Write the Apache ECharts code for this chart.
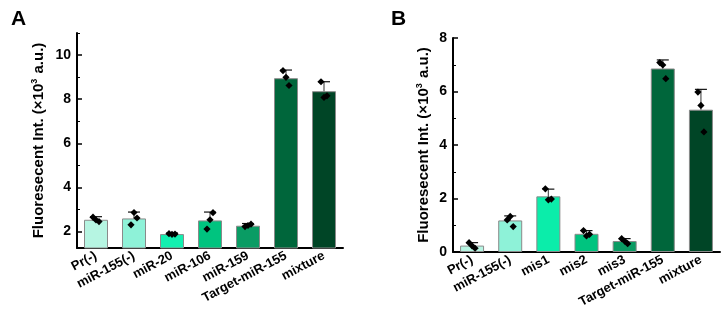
<!DOCTYPE html>
<html lang="en">
<head>
<meta charset="UTF-8">
<title>Fluorescence</title>
<script src="https://cdn.jsdelivr.net/npm/echarts@6/dist/echarts.min.js"></script>
<style>
  html, body { margin: 0; padding: 0; background: #fff; }
  #main { width: 727px; height: 319px; }
</style>
</head>
<body>
<div id="main"></div>
<script>
// panel A
var catsA = ['Pr(-)', 'miR-155(-)', 'miR-20', 'miR-106', 'miR-159', 'Target-miR-155', 'mixture']
var meanA = [2.53, 2.59, 1.88, 2.50, 2.26, 8.95, 8.36]
var upperA = [2.67, 2.88, 1.93, 2.88, 2.36, 9.32, 8.79]
var ptsA = [[2.65, 2.52, 2.45], [2.30, 2.86, 2.61], [1.90, 1.87, 1.88], [2.11, 2.53, 2.85],
            [2.22, 2.27, 2.33], [9.29, 8.99, 8.62], [8.79, 8.08, 8.15]]
var ticksA = [2, 4, 6, 8, 10]
var minorA = [3, 5, 7, 9, 11]

// panel B
var catsB = ['Pr(-)', 'miR-155(-)', 'mis1', 'mis2', 'mis3', 'Target-miR-155', 'mixture']
var meanB = [0.24, 1.18, 2.08, 0.68, 0.41, 6.86, 5.32]
var upperB = [0.35, 1.35, 2.35, 0.80, 0.50, 7.18, 6.08]
var ptsB = [[0.35, 0.23, 0.14], [1.20, 1.33, 0.95], [2.36, 1.95, 1.98], [0.80, 0.60, 0.66],
            [0.50, 0.41, 0.31], [7.08, 6.99, 6.48], [5.98, 5.48, 4.49]]
var ticksB = [0, 2, 4, 6, 8]
var minorB = [1, 3, 5, 7]

var colorsA = ['#b6f5e2', '#8ef2d8', '#12f0b0', '#00c47f', '#0a9c64', '#00663b', '#004526']
var colorsB = ['#b6f5e2', '#8ef2d8', '#0bedaa', '#00c47f', '#0a9c64', '#00663b', '#004526']

var FONT = '"Liberation Sans", Arial, sans-serif'
var yTitle = 'Fluoresecent Int. (×10{sup|3} a.u.)'

var myChart = echarts.init(document.getElementById('main'))

function xAxisOf(cats, gi) {
    return {
        type: 'category', gridIndex: gi, data: cats,
        axisLine: { lineStyle: { color: '#000', width: 2 } },
        axisTick: { alignWithLabel: true, length: 4, lineStyle: { color: '#000', width: 1.5 } },
        axisLabel: { rotate: 28, margin: 7, color: '#000', fontWeight: 'bold', fontSize: 13, fontFamily: FONT, interval: 0 }
    }
}

function yAxesOf(gi, min, max, ticks, minor, gap) {
    return [{
        type: 'value', gridIndex: gi, position: 'left', min: min, max: max,
        name: yTitle, nameLocation: 'middle', nameGap: gap,
        nameTextStyle: {
            color: '#000', fontWeight: 'bold', fontSize: 15, fontFamily: FONT,
            rich: { sup: { fontSize: 9, fontWeight: 'bold', fontFamily: FONT, color: '#000', padding: [0, 1, 8, 0] } }
        },
        splitLine: { show: false },
        axisLine: { show: true, lineStyle: { color: '#000', width: 2 } },
        axisTick: { show: true, inside: true, length: 5, customValues: ticks, lineStyle: { color: '#000', width: 1.5 } },
        axisLabel: { customValues: ticks, margin: 6, color: '#000', fontWeight: 'bold', fontSize: 14, fontFamily: FONT }
    }, {
        type: 'value', gridIndex: gi, position: 'left', offset: 0, min: min, max: max,
        splitLine: { show: false },
        axisLine: { show: false },
        axisLabel: { show: false },
        axisTick: { show: true, inside: true, length: 3, customValues: minor, lineStyle: { color: '#000', width: 1 } }
    }]
}

function barSeries(means, colors, ax) {
    return {
        type: 'bar', xAxisIndex: ax, yAxisIndex: ax * 2, barWidth: 24,
        data: means.map(function (v, i) {
            return { value: v, itemStyle: { color: colors[i], borderColor: '#8a8a8a', borderWidth: 1 } }
        }),
        z: 2
    }
}

function errSeries(means, upper, ax) {
    return {
        type: 'custom', xAxisIndex: ax, yAxisIndex: ax * 2, z: 3,
        data: means.map(function (m, i) { return [i, m, upper[i]] }),
        renderItem: function (params, api) {
            var base = api.coord([api.value(0), api.value(1)])
            var top = api.coord([api.value(0), api.value(2)])
            return {
                type: 'group',
                children: [{
                    type: 'line', shape: { x1: base[0], y1: base[1], x2: top[0], y2: top[1] },
                    style: { stroke: '#555', lineWidth: 1.2 }
                }, {
                    type: 'line', shape: { x1: top[0] - 6, y1: top[1], x2: top[0] + 6, y2: top[1] },
                    style: { stroke: '#111', lineWidth: 1.2 }
                }]
            }
        }
    }
}

function ptSeries(pts, ax) {
    var d = []
    pts.forEach(function (arr, i) {
        arr.forEach(function (v, j) { d.push([i, v, j]) })
    })
    return {
        type: 'custom', xAxisIndex: ax, yAxisIndex: ax * 2, z: 4,
        data: d,
        renderItem: function (params, api) {
            var p = api.coord([api.value(0), api.value(1)])
            var x = p[0] + (api.value(2) - 1) * 3, y = p[1], r = 3.6
            return {
                type: 'polygon',
                shape: { points: [[x, y - r], [x + r, y], [x, y + r], [x - r, y]] },
                style: { fill: '#000' }
            }
        }
    }
}

var option = {
    animation: false,
    backgroundColor: '#fff',
    title: [
        { text: 'A', left: 6, top: 4, textStyle: { fontSize: 21, fontWeight: 'bold', fontFamily: FONT, color: '#000' } },
        { text: 'B', left: 386, top: 4, textStyle: { fontSize: 21, fontWeight: 'bold', fontFamily: FONT, color: '#000' } }
    ],
    grid: [
        { left: 77, right: 384, top: 33, bottom: 71 },
        { left: 453, right: 7, top: 38, bottom: 67 }
    ],
    xAxis: [xAxisOf(catsA, 0), xAxisOf(catsB, 1)],
    yAxis: yAxesOf(0, 1.25, 11, ticksA, minorA, 30).concat(yAxesOf(1, 0, 8, ticksB, minorB, 21)),
    series: [
        barSeries(meanA, colorsA, 0), errSeries(meanA, upperA, 0), ptSeries(ptsA, 0),
        barSeries(meanB, colorsB, 1), errSeries(meanB, upperB, 1), ptSeries(ptsB, 1)
    ]
}
myChart.setOption(option)
</script>
</body>
</html>
